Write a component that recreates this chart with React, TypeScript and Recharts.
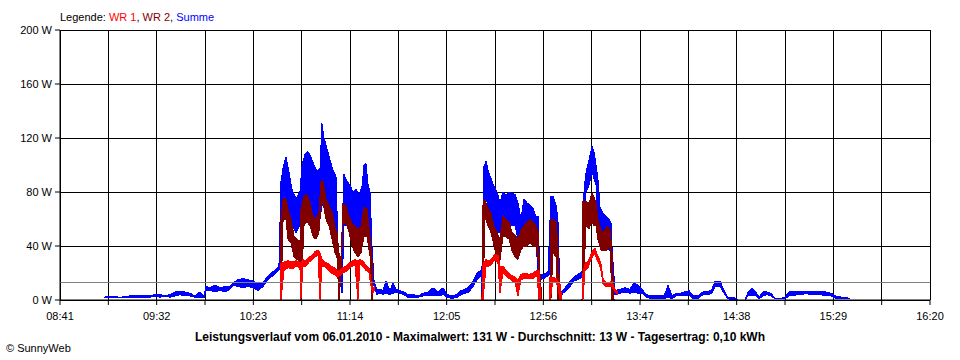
import React from 'react';
import { ComposedChart, Area, XAxis, YAxis, CartesianGrid, ReferenceLine } from 'recharts';

// [minutes after 08:41, low, high] - the inverters log many samples per minute,
// so each series is kept as the band its readings swing through
type Row = [number, number | null, number | null];

const START_MIN = 8 * 60 + 41;
const timeTicks = [0, 25.5, 51, 76.5, 102, 127.5, 153, 178.5, 204, 229.5, 255, 280.5, 306, 331.5, 357, 382.5, 408, 433.5, 459];
const wattTicks = [0, 40, 80, 120, 160, 200];
const average = 13;

const summe: Row[] = [
  [23.2, 2, 2], [26.4, 2, 3], [31.7, 2, 2], [36.9, 2, 3], [42.2, 2, 3], [47.5, 2, 3], [50.1, 3, 4], [52.8, 2, 4],
  [55.4, 3, 3], [58.0, 2, 4], [60.7, 3, 6], [63.3, 4, 6], [65.9, 3, 6], [68.6, 3, 5], [71.2, 2, 3], [73.9, 2, 6],
  [76.0, 2, 3], [77.0, 7, 10], [79.1, 7, 9], [81.8, 6, 11], [84.4, 7, 9], [87.1, 6, 10], [89.7, 8, 10], [91.3, 11, 13],
  [93.9, 10, 15], [96.5, 9, 16], [99.2, 10, 15], [101.8, 9, 14], [104.5, 7, 12], [107.1, 10, 13], [109.2, 14, 17],
  [111.3, 17, 20], [113.4, 19, 22], [115.5, 22, 25], [116.6, 24, 88], [117.7, 60, 98], [119.2, 65, 106], [120.8, 60, 95],
  [122.4, 55, 82], [124.5, 50, 75], [126.6, 55, 80], [127.7, 60, 100], [129.3, 65, 108], [130.8, 60, 110], [132.4, 62, 106],
  [134.0, 58, 100], [135.6, 55, 95], [137.2, 60, 98], [138.2, 70, 131], [139.3, 72, 120], [140.9, 68, 112], [142.4, 65, 104],
  [144.0, 60, 96], [145.6, 55, 92], [146.7, 30, 40], [147.7, 15, 30], [148.8, 5, 35], [149.8, 55, 93], [151.4, 55, 88],
  [153.0, 50, 85], [154.6, 45, 80], [156.2, 45, 82], [157.7, 45, 78], [159.3, 48, 84], [160.4, 55, 100], [161.4, 55, 101],
  [162.5, 50, 86], [163.6, 37, 80], [164.6, 20, 40], [165.7, 10, 14], [167.2, 4, 8], [168.8, 5, 8], [170.4, 4, 7],
  [172.0, 5, 14], [174.1, 4, 7], [175.7, 5, 13], [177.3, 6, 8], [179.4, 5, 7], [181.5, 4, 6], [183.6, 2, 4], [186.2, 2, 4],
  [188.9, 2, 3], [191.5, 3, 5], [194.2, 3, 6], [196.8, 3, 9], [199.4, 3, 6], [202.1, 4, 9], [204.2, 2, 4], [206.8, 1, 3],
  [209.5, 2, 4], [211.6, 4, 7], [213.7, 5, 8], [215.8, 6, 10], [217.9, 10, 14], [220.0, 15, 20], [222.1, 18, 22],
  [222.6, 0, 22], [223.7, 70, 99], [224.8, 75, 103], [225.8, 70, 96], [227.4, 65, 90], [229.0, 55, 84], [230.6, 50, 80],
  [232.1, 50, 72], [233.7, 55, 80], [235.3, 55, 78], [236.9, 55, 80], [238.5, 55, 79], [240.1, 55, 78], [241.6, 45, 72],
  [243.2, 40, 60], [244.8, 50, 75], [246.4, 50, 72], [248.0, 45, 70], [249.5, 50, 68], [251.1, 50, 62], [252.2, 15, 62],
  [253.2, 15, 19], [255.4, 16, 19], [257.5, 18, 21], [259.0, 20, 77], [260.1, 50, 77], [261.7, 47, 70], [262.7, 5, 60],
  [263.8, 2, 5], [265.4, 5, 7], [266.9, 7, 10], [269.1, 10, 14], [271.2, 14, 17], [273.3, 15, 19], [275.4, 17, 21],
  [276.5, 60, 82], [277.5, 80, 94], [279.1, 85, 104], [280.7, 95, 114], [281.7, 90, 110], [282.8, 85, 100], [283.8, 60, 90],
  [284.9, 55, 69], [286.5, 40, 64], [288.1, 40, 62], [289.6, 37, 60], [290.7, 37, 57], [291.2, 5, 40], [292.8, 4, 7],
  [295.5, 5, 8], [298.1, 6, 9], [300.7, 5, 8], [302.8, 6, 13], [304.9, 5, 11], [307.1, 5, 8], [309.2, 2, 4], [312.3, 1, 3],
  [315.5, 1, 3], [318.7, 1, 3], [320.8, 2, 11], [322.9, 1, 3], [325.0, 3, 5], [327.1, 3, 5], [329.7, 3, 6], [331.9, 4, 7],
  [334.0, 1, 3], [336.6, 1, 3], [339.2, 4, 6], [341.9, 4, 6], [344.0, 5, 8], [345.6, 10, 14], [348.2, 10, 14], [350.3, 5, 7],
  [352.4, 1, 2], [355.6, 0, 2], [357.7, 0, 0], [361.4, 0, 0], [363.0, 3, 6], [365.1, 3, 9], [367.2, 3, 6], [368.8, 1, 2],
  [370.9, 3, 6], [373.0, 4, 6], [375.1, 3, 5], [377.2, 1, 1], [379.9, 1, 1], [382.5, 1, 2], [384.6, 3, 6], [386.7, 3, 6],
  [388.8, 4, 6], [391.6, 4, 6], [393.6, 5, 6], [395.7, 4, 6], [398.3, 4, 6], [401.0, 4, 6], [404.1, 3, 6], [406.8, 3, 5],
  [409.4, 1, 3], [412.6, 1, 2], [414.7, 1, 2], [416.8, 1, 1],
];

const wr2: Row[] = [
  [116.1, 0, 0], [116.6, 0, 60], [117.7, 60, 75], [119.2, 60, 75], [120.3, 45, 67], [121.9, 42, 60], [123.5, 32, 47],
  [125.0, 30, 45], [126.6, 29, 43], [127.1, 0, 67], [128.7, 55, 77], [130.3, 58, 78], [131.9, 55, 72], [133.5, 47, 62],
  [135.1, 45, 60], [136.6, 50, 65], [137.7, 70, 88], [138.8, 72, 88], [140.3, 60, 75], [141.9, 55, 70], [143.5, 45, 65],
  [145.1, 35, 55], [146.1, 32, 50], [147.2, 0, 35], [148.3, 20, 30], [149.3, 57, 71], [150.9, 57, 70], [152.5, 50, 62],
  [154.1, 40, 57], [155.6, 35, 55], [157.2, 32, 52], [158.8, 35, 55], [160.4, 47, 69], [162.0, 47, 67], [163.6, 32, 47],
  [164.6, 0, 30], [165.1, 0, 0],
  [190, null, null],
  [222.6, 0, 0], [223.2, 0, 74], [224.2, 62, 74], [225.8, 55, 68], [227.4, 50, 64], [229.0, 40, 55], [230.6, 32, 50],
  [232.1, 29, 45], [233.7, 47, 62], [235.3, 47, 60], [236.9, 45, 58], [238.5, 36, 50], [240.1, 32, 48], [241.6, 30, 45],
  [243.2, 37, 52], [244.8, 40, 55], [246.4, 40, 58], [248.0, 42, 60], [249.5, 40, 58], [251.1, 40, 55], [252.2, 30, 50],
  [253.2, 0, 20], [254.3, 0, 0],
  [256, null, null],
  [258.5, 0, 0], [259.0, 0, 60], [260.1, 35, 60], [261.7, 32, 58], [262.7, 0, 40], [263.8, 0, 0],
  [270, null, null],
  [275.4, 0, 0], [275.9, 0, 73], [277.5, 55, 73], [279.1, 53, 72], [280.7, 58, 79], [281.7, 55, 76], [282.8, 55, 72],
  [283.8, 45, 60], [285.4, 37, 52], [287.0, 37, 50], [288.6, 37, 55], [290.2, 40, 52], [291.2, 0, 37], [292.3, 0, 0],
];

const wr1: Row[] = [
  [116.1, 0, 0], [116.6, 0, 27], [118.2, 22, 28], [120.3, 24, 29], [122.4, 23, 28], [124.5, 25, 29], [126.6, 24, 28],
  [127.1, 0, 27], [128.2, 25, 30], [129.8, 25, 29], [131.4, 28, 32], [133.0, 30, 33], [134.5, 32, 36], [136.1, 33, 37],
  [137.2, 0, 35], [138.2, 25, 30], [139.8, 25, 28], [141.4, 22, 27], [143.0, 20, 25], [144.6, 19, 24], [146.1, 17, 22],
  [147.7, 18, 22], [149.3, 20, 24], [150.9, 21, 25], [152.5, 23, 27], [154.1, 25, 29], [155.6, 26, 30], [157.2, 0, 29],
  [158.3, 27, 30], [159.8, 25, 29], [161.4, 22, 26], [163.0, 20, 24], [164.1, 10, 14], [165.1, 5, 9], [166.2, 8, 10],
  [190, null, null],
  [222.6, 0, 0], [223.2, 0, 27], [224.8, 25, 30], [226.3, 25, 29], [227.9, 27, 31], [229.5, 30, 34], [231.1, 27, 33],
  [232.1, 5, 25], [233.7, 20, 25], [235.3, 18, 22], [236.9, 16, 20], [238.5, 14, 18], [240.1, 13, 17], [241.6, 3, 15],
  [243.2, 15, 19], [245.3, 16, 20], [247.4, 16, 19], [249.5, 16, 20], [251.7, 18, 22], [252.7, 0, 22], [253.8, 0, 0],
  [256, null, null],
  [258.0, 0, 0], [258.5, 0, 17], [260.1, 14, 17], [261.7, 13, 16], [262.7, 10, 14], [263.8, 0, 12], [264.8, 0, 0],
  [270, null, null],
  [275.4, 0, 0], [275.9, 0, 20], [277.0, 22, 27], [278.6, 24, 29], [279.6, 28, 32], [281.2, 33, 37], [282.3, 34, 38],
  [283.3, 30, 34], [284.4, 27, 31], [285.4, 22, 27], [286.5, 12, 16], [288.1, 10, 13], [289.6, 10, 13], [291.2, 10, 14],
  [292.8, 6, 8], [294.4, 4, 6],
];

const toBand = (rows: Row[]) =>
  rows.map(([t, lo, hi]) => ({ t, v: lo == null || hi == null ? null : [lo, hi] }));

const clock = (m: number) => {
  const total = Math.round(START_MIN + m);
  const h = Math.floor(total / 60);
  const mm = total % 60;
  return `${String(h).padStart(2, '0')}:${String(mm).padStart(2, '0')}`;
};

const font = '"Liberation Sans", Arial, sans-serif';
const tickStyle = { fill: '#000', fontSize: 11, fontFamily: font };

export default function App() {
  return (
    <div style={{ position: 'absolute', left: 0, top: 0, width: 960, height: 360, background: '#fff', overflow: 'hidden', fontFamily: font }}>
      <div style={{ position: 'absolute', left: 60, top: 10, fontSize: 11, lineHeight: '14px', whiteSpace: 'nowrap' }}>
        Legende: <span style={{ color: '#ff0000' }}>WR 1</span>, <span style={{ color: '#800000' }}>WR 2</span>,{' '}
        <span style={{ color: '#0000ff' }}>Summe</span>
      </div>
      <ComposedChart width={960} height={360} margin={{ top: 30, right: 30, bottom: 0, left: 0 }}>
        <XAxis
          dataKey="t"
          type="number"
          domain={[0, 459]}
          ticks={timeTicks}
          interval={0}
          allowDataOverflow
          height={60}
          tickSize={5}
          tickMargin={7}
          tick={tickStyle}
          tickLine={{ stroke: '#000' }}
          axisLine={{ stroke: '#000' }}
          tickFormatter={(v: number, i: number) => (i % 2 === 0 ? clock(v) : '')}
        />
        <YAxis
          type="number"
          domain={[0, 200]}
          ticks={wattTicks}
          interval={0}
          allowDataOverflow
          width={60}
          tickSize={5}
          tickMargin={3}
          tick={tickStyle}
          tickLine={{ stroke: '#000' }}
          axisLine={{ stroke: '#000' }}
          tickFormatter={(v: number) => `${v} W`}
        />
        <Area data={toBand(summe)} dataKey="v" type="linear" stroke="#0000ff" strokeWidth={1} fill="#0000ff" fillOpacity={1} shapeRendering="crispEdges" dot={false} activeDot={false} isAnimationActive={false} />
        <Area data={toBand(wr2)} dataKey="v" type="linear" stroke="#800000" strokeWidth={1} fill="#800000" fillOpacity={1} shapeRendering="crispEdges" dot={false} activeDot={false} isAnimationActive={false} />
        <Area data={toBand(wr1)} dataKey="v" type="linear" stroke="#ff0000" strokeWidth={1} fill="#ff0000" fillOpacity={1} shapeRendering="crispEdges" dot={false} activeDot={false} isAnimationActive={false} />
        <CartesianGrid stroke="#000" shapeRendering="crispEdges" />
        <ReferenceLine y={average} stroke="#808080" shapeRendering="crispEdges" />
      </ComposedChart>
      <div style={{ position: 'absolute', left: 0, width: 960, top: 330, textAlign: 'center', fontSize: 12, fontWeight: 'bold', lineHeight: '14px', whiteSpace: 'nowrap' }}>
        Leistungsverlauf vom 06.01.2010 - Maximalwert: 131 W - Durchschnitt: 13 W - Tagesertrag: 0,10 kWh
      </div>
      <div style={{ position: 'absolute', left: 6, top: 341, fontSize: 11, lineHeight: '14px', whiteSpace: 'nowrap' }}>
        © SunnyWeb
      </div>
    </div>
  );
}
